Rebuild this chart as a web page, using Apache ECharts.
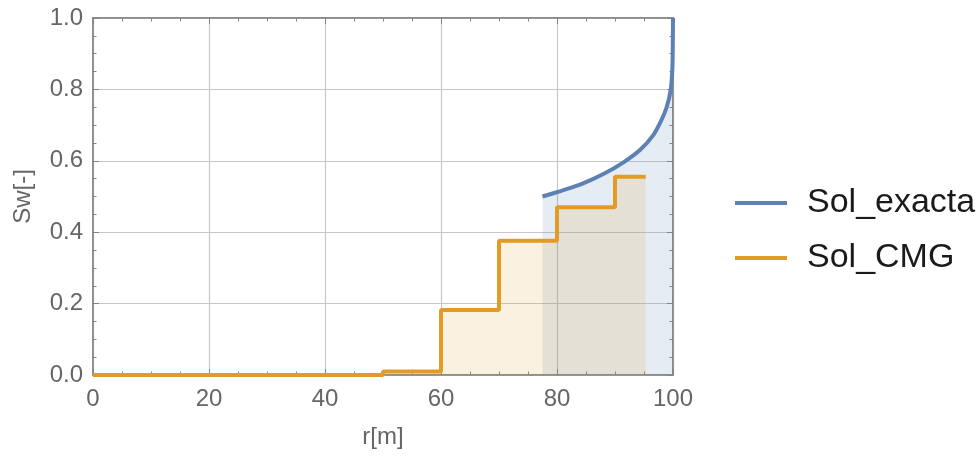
<!DOCTYPE html>
<html>
<head>
<meta charset="utf-8">
<script src="https://cdn.jsdelivr.net/npm/echarts@6/dist/echarts.min.js"></script>
<style>html,body{margin:0;padding:0;background:#fff;}#c{width:980px;height:456px;}</style>
</head>
<body>
<div id="c"></div>
<script>
// Sol_exacta (analytical solution)
var exactR  = [77.5, 81.1, 84.5, 88.0, 91.4, 94.3, 96.6, 98.0, 98.9, 99.6, 99.9, 99.98, 100];
var exactSw = [0.50, 0.518, 0.537, 0.563, 0.595, 0.63, 0.672, 0.714, 0.75, 0.798, 0.864, 0.95, 1.0];
// Sol_CMG (step solution)
var cmgR  = [0, 50, 60, 70, 80, 90, 95.3];
var cmgSw = [0.0, 0.01, 0.182, 0.376, 0.47, 0.555, 0.555];
// axis ticks
var xTicks = [0, 20, 40, 60, 80, 100];
var yTicks = [0, 0.2, 0.4, 0.6, 0.8, 1.0];
var seriesNames = ['Sol_exacta', 'Sol_CMG'];

function zip(a, b) { return a.map(function (v, i) { return [v, b[i]]; }); }

var FONT = 'Liberation Sans, Arial, sans-serif';
var frameColor = '#858585';
var blue = '#5E81B5', orange = '#E19C24';

var chart = echarts.init(document.getElementById('c'), null, {renderer: 'canvas'});
function tickCommon(col) {
  return {
    axisLine: {show: true, onZero: false, lineStyle: {color: col, width: 1.5}},
    axisTick: {show: true, inside: true, length: 6, lineStyle: {color: col, width: 1}},
    minorTick: {show: true, splitNumber: 4, length: 3.5, lineStyle: {color: col, width: 1}}
  };
}
chart.setOption({
  backgroundColor: '#fff',
  animation: false,
  grid: {left: 93, right: 307, top: 18, bottom: 81, containLabel: false,
         show: true, borderColor: frameColor, borderWidth: 1.5, backgroundColor: 'transparent'},
  legend: [
    {data: [seriesNames[0]], orient: 'vertical', left: 735, top: 183, padding: 0,
     icon: 'rect', itemWidth: 52, itemHeight: 4,
     textStyle: {fontFamily: FONT, fontSize: 34, color: '#1a1a1a', padding: [0, 0, 0, 15], lineHeight: 40}},
    {data: [seriesNames[1]], orient: 'vertical', left: 735, top: 238, padding: 0,
     icon: 'rect', itemWidth: 52, itemHeight: 4,
     textStyle: {fontFamily: FONT, fontSize: 34, color: '#1a1a1a', padding: [0, 0, 0, 15], lineHeight: 40}}
  ],
  xAxis: [
    Object.assign({
      type: 'value', gridIndex: 0, min: xTicks[0], max: xTicks[xTicks.length - 1], interval: xTicks[1] - xTicks[0],
      position: 'bottom',
      name: 'r[m]', nameLocation: 'middle', nameGap: 50,
      nameTextStyle: {fontFamily: FONT, fontSize: 24, color: '#666'},
      axisLabel: {fontFamily: FONT, fontSize: 24, color: '#666', margin: 12},
      splitLine: {show: true, lineStyle: {color: '#c8c8c8', width: 1.2}}
    }, tickCommon(frameColor)),
    Object.assign({
      type: 'value', gridIndex: 0, min: xTicks[0], max: xTicks[xTicks.length - 1], interval: xTicks[1] - xTicks[0],
      position: 'top', axisLabel: {show: false}, splitLine: {show: false}
    }, tickCommon(frameColor))
  ],
  yAxis: [
    Object.assign({
      type: 'value', gridIndex: 0, min: yTicks[0], max: yTicks[yTicks.length - 1], interval: 0.2,
      position: 'left',
      name: 'Sw[-]', nameLocation: 'middle', nameGap: 58, nameRotate: 90,
      nameTextStyle: {fontFamily: FONT, fontSize: 24, color: '#666'},
      axisLabel: {fontFamily: FONT, fontSize: 24, color: '#666', margin: 10,
                  formatter: function (v) { return v.toFixed(1); }},
      splitLine: {show: true, lineStyle: {color: '#c8c8c8', width: 1.2}}
    }, tickCommon(frameColor)),
    Object.assign({
      type: 'value', gridIndex: 0, min: yTicks[0], max: yTicks[yTicks.length - 1], interval: 0.2,
      position: 'right', axisLabel: {show: false}, splitLine: {show: false}
    }, tickCommon(frameColor))
  ],
  series: [
    {name: seriesNames[0], type: 'line', data: zip(exactR, exactSw), showSymbol: false, symbol: 'none',
     smooth: 0.3, clip: true,
     lineStyle: {color: blue, width: 4}, itemStyle: {color: blue},
     areaStyle: {color: 'rgba(94,129,181,0.22)', origin: 'start'}, z: 2},
    {name: seriesNames[1], type: 'line', data: zip(cmgR, cmgSw), showSymbol: false, symbol: 'none',
     step: 'end', clip: true,
     lineStyle: {color: orange, width: 4}, itemStyle: {color: orange},
     areaStyle: {color: 'rgba(225,156,36,0.2)', origin: 'start'}, z: 3}
  ]
});
</script>
</body>
</html>
